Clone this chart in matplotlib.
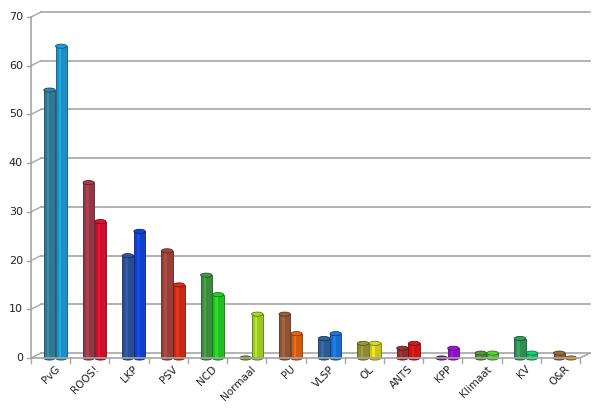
import numpy as np
import matplotlib.pyplot as plt
import matplotlib.transforms as mtransforms
from matplotlib.patches import Ellipse

# Data
parties = ["PvG", "ROOS!", "LKP", "PSV", "NCD", "Normaal", "PU", "VLSP",
           "OL", "ANTS", "KPP", "Klimaat", "KV", "O&R"]
series_a = [55, 36, 21, 22, 17, 0, 9, 4, 3, 2, 0, 1, 4, 1]
series_b = [64, 28, 26, 15, 13, 9, 5, 5, 3, 3, 2, 1, 1, 0]
y_ticks = [0, 10, 20, 30, 40, 50, 60, 70]

colors_a = ["#2f7894", "#933747", "#2c4c92", "#963f38", "#3d8c3d", "#6b8a22",
            "#8d5533", "#2c5b8e", "#8c8c32", "#8e2e33", "#6a2282", "#4c8c33",
            "#2f8c55", "#8c6232"]
colors_b = ["#1b8fc6", "#c8102e", "#1240c6", "#c52a16", "#22bd22", "#9ac722",
            "#cf5c12", "#1a6acb", "#c6c61f", "#c91616", "#8c12c8", "#52c12f",
            "#12c262", "#c27312"]

W, H = 600, 412
fig = plt.figure(figsize=(6, 4.12), dpi=100)
fig.patch.set_facecolor("white")

# front plane of the 3d box in pixels
x0, x1 = 31, 580
yb, yt = 358, 17
dx, dy = 10, -5
ax = fig.add_axes([x0 / W, (H - yb) / H, (x1 - x0) / W, (yb - yt) / H])
ax.set_xlim(-0.5, len(parties) - 0.5)
ax.set_ylim(0, 70)
ax.axis("off")

pix = mtransforms.Affine2D().scale(1 / W, -1 / H).translate(0, 1) + fig.transFigure


def fy(v):
    return yb - v * (yb - yt) / 70.0


grid_col = "#a6a6a6"
for v in y_ticks:
    y = fy(v)
    ax.plot([x0 + dx, x1 + dx], [y + dy, y + dy], color=grid_col, lw=1.2,
            transform=pix, clip_on=False, zorder=0.5)
    ax.plot([x0, x0 + dx], [y, y + dy], color=grid_col, lw=1.0,
            transform=pix, clip_on=False, zorder=0.5)
    ax.plot([x0 - 4, x0], [y, y], color=grid_col, lw=1.0,
            transform=pix, clip_on=False, zorder=0.5)
    ax.text(x0 - 8, y, str(v), transform=pix, ha="right", va="center",
            fontsize=8, color="#222222", family="DejaVu Sans")

# left wall and floor
ax.plot([x0, x0], [yb, yt], color=grid_col, lw=1.2, transform=pix, clip_on=False, zorder=0.5)
ax.plot([x0, x1, x1 + dx], [yb, yb, yb + dy], color=grid_col, lw=1.2,
        transform=pix, clip_on=False, zorder=3)

# category ticks and labels
cat_w = (x1 - x0) / len(parties)
for i in range(len(parties) + 1):
    xx = x0 + i * cat_w
    ax.plot([xx, xx], [yb, yb + 5], color=grid_col, lw=1.0, transform=pix,
            clip_on=False, zorder=3)
for i, p in enumerate(parties):
    xx = x0 + (i + 0.5) * cat_w
    ax.text(xx + 4, yb + 6, p, transform=pix, ha="right", va="top",
            rotation=45, rotation_mode="anchor", fontsize=7.5, color="#222222")

# cylinder bars
bw = 0.29
cap_h = 0.85
xs = np.arange(len(parties))


def shade(c, f):
    r, g, b = [int(c[k:k + 2], 16) / 255 for k in (1, 3, 5)]
    return (min(1, r * f), min(1, g * f), min(1, b * f))


for off, vals, cols in [(-0.03, series_a, colors_a), (0.27, series_b, colors_b)]:
    for x, v, c in zip(xs + off, vals, cols):
        if v > 0:
            ax.bar(x, v, width=bw, color=c, edgecolor=shade(c, 0.6), lw=0.6, zorder=2)
            ax.bar(x - bw * 0.12, v, width=bw * 0.22, color=shade(c, 1.18), lw=0, zorder=2.1)
            ax.add_patch(Ellipse((x, 0), bw, cap_h, facecolor=c,
                                 edgecolor=shade(c, 0.6), lw=0.6, zorder=1.9, clip_on=False))
        ax.add_patch(Ellipse((x, v), bw, cap_h, facecolor=shade(c, 1.1),
                             edgecolor=shade(c, 0.6), lw=0.6, zorder=2.2, clip_on=False))

fig.savefig("out.png", dpi=100)
